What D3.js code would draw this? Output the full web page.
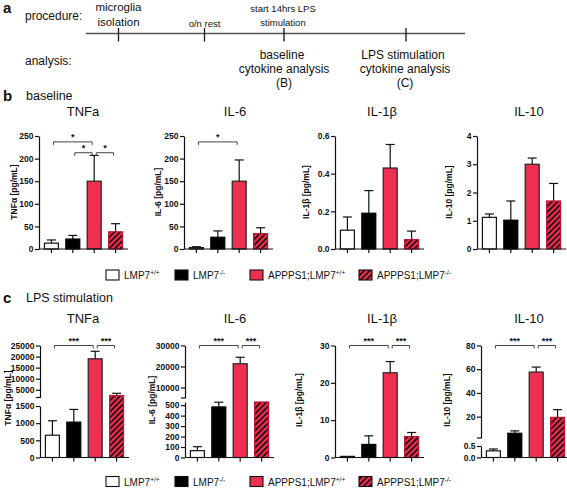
<!DOCTYPE html>
<html><head><meta charset="utf-8">
<script src="https://cdn.jsdelivr.net/npm/d3@7"></script>
<style>
body{margin:0;background:#fff}
svg{display:block}
text{font-family:"Liberation Sans",Arial,Helvetica,sans-serif;fill:#111}
</style>
</head><body>
<svg id="fig" width="567" height="488"></svg>
<script>
// ---------- data ----------
const groupNames = ["LMP7", "LMP7", "APPPS1;LMP7", "APPPS1;LMP7"];
const groupSups = ["+/+", "-/-", "+/+", "-/-"];
const cytokines = ["TNFa", "IL-6", "IL-1β", "IL-10"];
const yLabels = ["TNFα [pg/mL]", "IL-6 [pg/mL]", "IL-1β [pg/mL]", "IL-10 [pg/mL]"];

// baseline (mean, SEM)
const baseTNF = [13, 22, 150, 38],        baseTNFErr = [7, 8, 57, 18];
const baseIL6 = [3, 26, 150, 34],         baseIL6Err = [2, 14, 47, 13];
const baseIL1b = [0.10, 0.19, 0.43, 0.05], baseIL1bErr = [0.07, 0.12, 0.125, 0.045];
const baseIL10 = [1.12, 1.02, 3.0, 1.7],  baseIL10Err = [0.12, 0.68, 0.22, 0.62];

// LPS stimulation (mean, SEM)
const lpsTNF = [650, 1030, 19000, 2400],  lpsTNFErr = [420, 370, 3400, 1000];
const lpsIL6 = [65, 483, 21300, 2600],    lpsIL6Err = [38, 45, 3100, 500];
const lpsIL1b = [0.3, 3.5, 22.7, 5.6],    lpsIL1bErr = [0.1, 2.3, 3.0, 1.1];
const lpsIL10 = [0.29, 6, 57.6, 19.4],    lpsIL10Err = [0.08, 2, 4.2, 6.5];

// axis tick values and domains (segments low -> high for broken axes)
const ticksBaseTNF = [0, 50, 100, 150, 200, 250];
const ticksBaseIL6 = [0, 50, 100, 150, 200, 250];
const ticksBaseIL1b = [0, 0.2, 0.4, 0.6];
const ticksBaseIL10 = [0, 1, 2, 3, 4];
const ticksLpsTNFLow = [0, 500, 1000, 1500], ticksLpsTNFHigh = [5000, 10000, 15000, 20000, 25000];
const ticksLpsIL6Low = [0, 100, 200, 300, 400, 500], ticksLpsIL6High = [10000, 20000, 30000];
const ticksLpsIL1b = [0, 10, 20, 30];
const ticksLpsIL10Low = [0, 0.5], ticksLpsIL10High = [20, 40, 60, 80];
const domLpsTNF = [[0, 1500], [1500, 25000]];
const domLpsIL6 = [[0, 530], [5000, 30000]];
const domLpsIL10 = [[0, 0.5], [2, 80]];

// significance brackets: [fromGroup, toGroup, level, label]
const sigBaseTNF = [[0, 2, 237, "*"], [1, 2, 213, "*"], [2, 3, 213, "*"]];
const sigBaseIL6 = [[0, 2, 237, "*"]];
const sigLpsTNF = [[0, 2, 25000, "***"], [2, 3, 25000, "***"]];
const sigLpsIL6 = [[0, 2, 30000, "***"], [2, 3, 30000, "***"]];
const sigLpsIL1b = [[0, 2, 30, "***"], [2, 3, 30, "***"]];
const sigLpsIL10 = [[0, 2, 80, "***"], [2, 3, 80, "***"]];

// ---------- drawing ----------
const svg = d3.select("#fig");
svg.append("rect").attr("width", 567).attr("height", 488).attr("fill", "#fff");

const RED = "#ef2f52";
const defs = svg.append("defs");
const pat = defs.append("pattern").attr("id", "hatch").attr("patternUnits", "userSpaceOnUse")
  .attr("width", 4).attr("height", 4).attr("patternTransform", "rotate(45)");
pat.append("rect").attr("width", 4).attr("height", 4).attr("fill", RED);
pat.append("rect").attr("width", 1.7).attr("height", 4).attr("fill", "#1a0508");

const fills = ["#fff", "#000", RED, "url(#hatch)"];
const strokes = ["#111", "#000", "#222", "#c01535"];

// ----- panel a -----
const A = svg.append("g");
A.append("text").attr("x", 3).attr("y", 13).attr("font-size", 15).attr("font-weight", "bold").text("a");
A.append("text").attr("x", 25).attr("y", 20).attr("font-size", 12).text("procedure:");
A.append("text").attr("x", 25).attr("y", 65).attr("font-size", 12).text("analysis:");
A.append("line").attr("x1", 86).attr("x2", 465).attr("y1", 33.5).attr("y2", 33.5)
  .attr("stroke", "#555").attr("stroke-width", 1.6);
[118.5, 204.5, 284, 406].forEach(x => {
  A.append("line").attr("x1", x).attr("x2", x).attr("y1", 28).attr("y2", 41.5)
    .attr("stroke", "#111").attr("stroke-width", 1.3);
});
const ta = (x, y, s, t) => A.append("text").attr("x", x).attr("y", y).attr("font-size", s)
  .attr("text-anchor", "middle").text(t);
ta(118.5, 11, 11.5, "microglia");
ta(118.5, 26, 11.5, "isolation");
ta(204.5, 26.5, 9.5, "o/n rest");
ta(283, 12, 9.5, "start 14hrs LPS");
ta(283, 25.5, 9.5, "stimulation");
ta(282, 58.5, 12, "baseline");
ta(284, 73, 12, "cytokine analysis");
ta(284, 87, 12, "(B)");
ta(403, 58.5, 12, "LPS stimulation");
ta(405, 73, 12, "cytokine analysis");
ta(405, 87, 12, "(C)");

// ----- generic bar chart -----
function yOf(segs, v) {
  for (let i = 0; i < segs.length; i++) {
    const sc = segs[i].scale, [d0, d1] = sc.domain();
    if (v < d0 && i > 0) { const p = segs[i - 1].scale; return p(p.domain()[1]); }
    if (v <= d1 || i === segs.length - 1) return sc(Math.min(v, d1));
  }
}

function chart(o) {
  const g = svg.append("g");
  const x = d3.scaleBand().domain(d3.range(4)).range([o.ax, o.ax + 89]).paddingInner(0.3).paddingOuter(0.23);
  const segs = o.segs.map(s => ({
    scale: d3.scaleLinear().domain(s.domain).range(s.range),
    ticks: s.ticks, fmt: s.fmt
  }));
  const y = v => yOf(segs, v);
  const y0 = y(0);

  // bars
  g.selectAll("rect.bar").data(o.vals).join("rect").attr("class", "bar")
    .attr("x", (d, i) => x(i) + 0.5).attr("width", x.bandwidth() - 1)
    .attr("y", d => y(d)).attr("height", d => Math.max(0.8, y0 - y(d)))
    .attr("fill", (d, i) => fills[i]).attr("stroke", (d, i) => strokes[i]).attr("stroke-width", 1.2);

  // error bars (upper only)
  o.vals.forEach((v, i) => {
    const y1 = y(v), y2 = y(v + o.errs[i]);
    if (y1 - y2 < 0.6) return;
    const cx = x(i) + x.bandwidth() / 2;
    g.append("line").attr("x1", cx).attr("x2", cx).attr("y1", y1).attr("y2", y2)
      .attr("stroke", "#111").attr("stroke-width", 1.2);
    g.append("line").attr("x1", cx - 4.5).attr("x2", cx + 4.5).attr("y1", y2).attr("y2", y2)
      .attr("stroke", "#111").attr("stroke-width", 1.2);
  });

  // y axis segments
  segs.forEach((s, i) => {
    const ax = g.append("g").attr("transform", `translate(${o.ax},0)`)
      .call(d3.axisLeft(s.scale).tickValues(s.ticks).tickSize(4).tickSizeOuter(0).tickPadding(1.5).tickFormat(d3.format(s.fmt)));
    ax.select(".domain").attr("stroke", "#111").attr("stroke-width", 1.2);
    ax.selectAll(".tick line").attr("stroke", "#111").attr("stroke-width", 1.2);
    ax.selectAll(".tick text").attr("font-size", 8.5).attr("font-weight", "bold")
      .attr("font-family", '"Liberation Sans",Arial,sans-serif').attr("fill", "#111");
    if (i > 0) {
      const yb = s.scale.range()[0];
      g.append("line").attr("x1", o.ax - 4).attr("x2", o.ax).attr("y1", yb).attr("y2", yb)
        .attr("stroke", "#111").attr("stroke-width", 1.2);
    }
  });

  // x axis
  g.append("line").attr("x1", o.ax).attr("x2", o.ax + 89).attr("y1", y0).attr("y2", y0)
    .attr("stroke", "#111").attr("stroke-width", 1.2);
  d3.range(4).forEach(i => {
    const cx = x(i) + x.bandwidth() / 2;
    g.append("line").attr("x1", cx).attr("x2", cx).attr("y1", y0).attr("y2", y0 + 4)
      .attr("stroke", "#111").attr("stroke-width", 1.2);
  });

  // brackets
  (o.sig || []).forEach(([a, b, lv, lab]) => {
    const xa = x(a) + x.bandwidth() / 2 + 2, xb = x(b) + x.bandwidth() / 2 - 2;
    const yy = y(lv);
    g.append("path").attr("d", `M${xa},${yy + 3}V${yy}H${xb}V${yy + 3}`)
      .attr("fill", "none").attr("stroke", "#444").attr("stroke-width", 1);
    g.append("text").attr("x", (xa + xb) / 2).attr("y", yy - 1.5).attr("text-anchor", "middle")
      .attr("font-size", 9).attr("font-weight", "bold").text(lab);
  });

  // titles
  g.append("text").attr("x", o.tx).attr("y", o.ty).attr("text-anchor", "middle")
    .attr("font-size", 13).text(o.title);
  g.append("text").attr("transform", `translate(${o.lx},${o.ly}) rotate(-90)`)
    .attr("text-anchor", "middle").attr("dominant-baseline", "central")
    .attr("font-size", 8.5).attr("font-weight", "bold").text(o.ylab);
}

// ----- panel b -----
svg.append("text").attr("x", 3).attr("y", 101).attr("font-size", 15).attr("font-weight", "bold").text("b");
svg.append("text").attr("x", 26).attr("y", 100).attr("font-size", 12.5).text("baseline");

const bTop = 136, bBot = 249;
const bAx = [39, 184, 335, 477];
const titleX = [83, 235, 382, 529];
const baseSets = [
  [baseTNF, baseTNFErr, ticksBaseTNF, "d", sigBaseTNF],
  [baseIL6, baseIL6Err, ticksBaseIL6, "d", sigBaseIL6],
  [baseIL1b, baseIL1bErr, ticksBaseIL1b, ".1f", []],
  [baseIL10, baseIL10Err, ticksBaseIL10, "d", []]
];
const bLx = [14, 158, 306, 449];
baseSets.forEach(([vals, errs, ticks, fmt, sig], k) => {
  chart({
    ax: bAx[k], vals, errs, sig,
    segs: [{ domain: [ticks[0], ticks[ticks.length - 1]], range: [bBot, bTop], ticks, fmt }],
    title: cytokines[k], tx: titleX[k], ty: 116, ylab: yLabels[k], lx: bLx[k], ly: 192
  });
});

// ----- panel c -----
svg.append("text").attr("x", 3).attr("y", 303).attr("font-size", 15).attr("font-weight", "bold").text("c");
svg.append("text").attr("x", 26).attr("y", 302).attr("font-size", 12.5).text("LPS stimulation");

const cTop = 345.5, cBot = 457.5;
const cAx = [40, 185, 335, 481];
const cLx = [8, 152, 299, 447];
chart({
  ax: cAx[0], vals: lpsTNF, errs: lpsTNFErr, sig: sigLpsTNF,
  segs: [{ domain: domLpsTNF[0], range: [cBot, 406], ticks: ticksLpsTNFLow, fmt: "d" },
         { domain: domLpsTNF[1], range: [397.5, cTop], ticks: ticksLpsTNFHigh, fmt: "d" }],
  title: cytokines[0], tx: titleX[0], ty: 323, ylab: yLabels[0], lx: cLx[0], ly: 398
});
chart({
  ax: cAx[1], vals: lpsIL6, errs: lpsIL6Err, sig: sigLpsIL6,
  segs: [{ domain: domLpsIL6[0], range: [cBot, 402], ticks: ticksLpsIL6Low, fmt: "d" },
         { domain: domLpsIL6[1], range: [398, cTop], ticks: ticksLpsIL6High, fmt: "d" }],
  title: cytokines[1], tx: titleX[1], ty: 323, ylab: yLabels[1], lx: cLx[1], ly: 400
});
chart({
  ax: cAx[2], vals: lpsIL1b, errs: lpsIL1bErr, sig: sigLpsIL1b,
  segs: [{ domain: [0, 30], range: [cBot, cTop], ticks: ticksLpsIL1b, fmt: "d" }],
  title: cytokines[2], tx: titleX[2], ty: 323, ylab: yLabels[2], lx: cLx[2], ly: 400
});
chart({
  ax: cAx[3], vals: lpsIL10, errs: lpsIL10Err, sig: sigLpsIL10,
  segs: [{ domain: domLpsIL10[0], range: [cBot, 446], ticks: ticksLpsIL10Low, fmt: ".1f" },
         { domain: domLpsIL10[1], range: [438, cTop], ticks: ticksLpsIL10High, fmt: "d" }],
  title: cytokines[3], tx: titleX[3], ty: 323, ylab: yLabels[3], lx: cLx[3], ly: 400
});

// ----- legends -----
function legend(y) {
  const bx = [106, 175, 250, 359];
  groupNames.forEach((n, i) => {
    svg.append("rect").attr("x", bx[i]).attr("y", y).attr("width", 13).attr("height", 10)
      .attr("fill", fills[i]).attr("stroke", "#111").attr("stroke-width", 1.1);
    const t = svg.append("text").attr("x", bx[i] + 18).attr("y", y + 9).attr("font-size", 10).text(n);
    t.append("tspan").attr("dy", -4).attr("font-size", 6.5).text(groupSups[i]);
  });
}
legend(270);
legend(476.5);
</script>
</body></html>
